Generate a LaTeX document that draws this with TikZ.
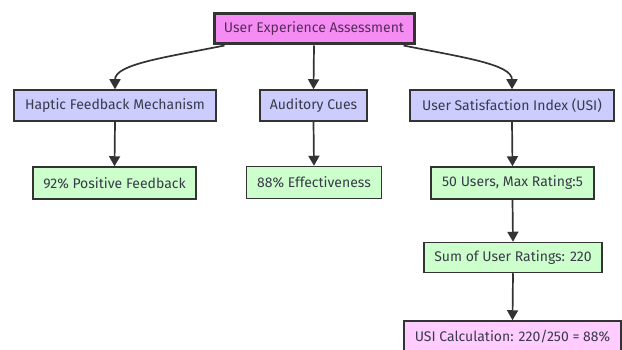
\documentclass[tikz,border=0pt]{standalone}
\usepackage{fontspec}
\setmainfont{Fira Sans}
\usetikzlibrary{arrows.meta}
\definecolor{edgec}{HTML}{333333}
\definecolor{topfill}{HTML}{F48CF4}
\definecolor{bluefill}{HTML}{CCCCFF}
\definecolor{greenfill}{HTML}{CCFFCC}
\definecolor{pinkfill}{HTML}{FFCCFF}
\definecolor{txt}{HTML}{3A3A4A}
\definecolor{toptxt}{HTML}{5A2A5A}
\tikzset{
  box/.style={draw=edgec, line width=1.5pt, minimum height=31pt, inner sep=0pt, text=txt, font=\fontsize{14}{16}\selectfont},
  topbox/.style={box, fill=topfill, line width=3pt, text=toptxt},
  bluebox/.style={box, fill=bluefill},
  greenbox/.style={box, fill=greenfill},
  pinkbox/.style={box, fill=pinkfill},
  conn/.style={draw=edgec, line width=1.7pt, -{Triangle[length=10pt,width=11pt]}}
}
\begin{document}
\begin{tikzpicture}[x=1pt,y=1pt]
\useasboundingbox (0,0) rectangle (622,349);
\fill[white] (0,0) rectangle (622,349);
\node[topbox, minimum width=200pt, minimum height=30pt] (top) at (314,320) {User Experience Assessment};
\node[bluebox, minimum width=202pt] (hap) at (115,243.5) {Haptic Feedback Mechanism};
\node[bluebox, minimum width=107pt] (aud) at (313.5,243.5) {Auditory Cues};
\node[bluebox, minimum width=204pt] (usi) at (512,243.5) {User Satisfaction Index (USI)};
\node[greenbox, minimum width=163pt, minimum height=32pt] (pos) at (114.5,166) {92\% Positive Feedback};
\node[greenbox, minimum width=135pt, minimum height=32pt] (eff) at (314,166.5) {88\% Effectiveness};
\node[greenbox, minimum width=163pt, minimum height=32pt] (users) at (512.5,166) {50 Users, Max Rating:5};
\node[greenbox, minimum width=178pt, minimum height=30pt] (sum) at (513,91.5) {Sum of User Ratings: 220};
\node[pinkbox, minimum width=217pt, minimum height=32pt] (calc) at (512.5,12) {USI Calculation: 220/250 = 88\%};
\draw[conn] ([xshift=12pt]top.south west) .. controls +(-60,-12) and +(0,25) .. (hap.north);
\draw[conn] (top.south) -- (aud.north);
\draw[conn] ([xshift=-12pt]top.south east) .. controls +(60,-12) and +(0,25) .. (usi.north);
\draw[conn] (hap.south) -- (pos.north);
\draw[conn] (aud.south) -- (eff.north);
\draw[conn] (usi.south) -- (users.north);
\draw[conn] (users.south) -- (sum.north);
\draw[conn] (sum.south) -- (calc.north);
\end{tikzpicture}
\end{document}
